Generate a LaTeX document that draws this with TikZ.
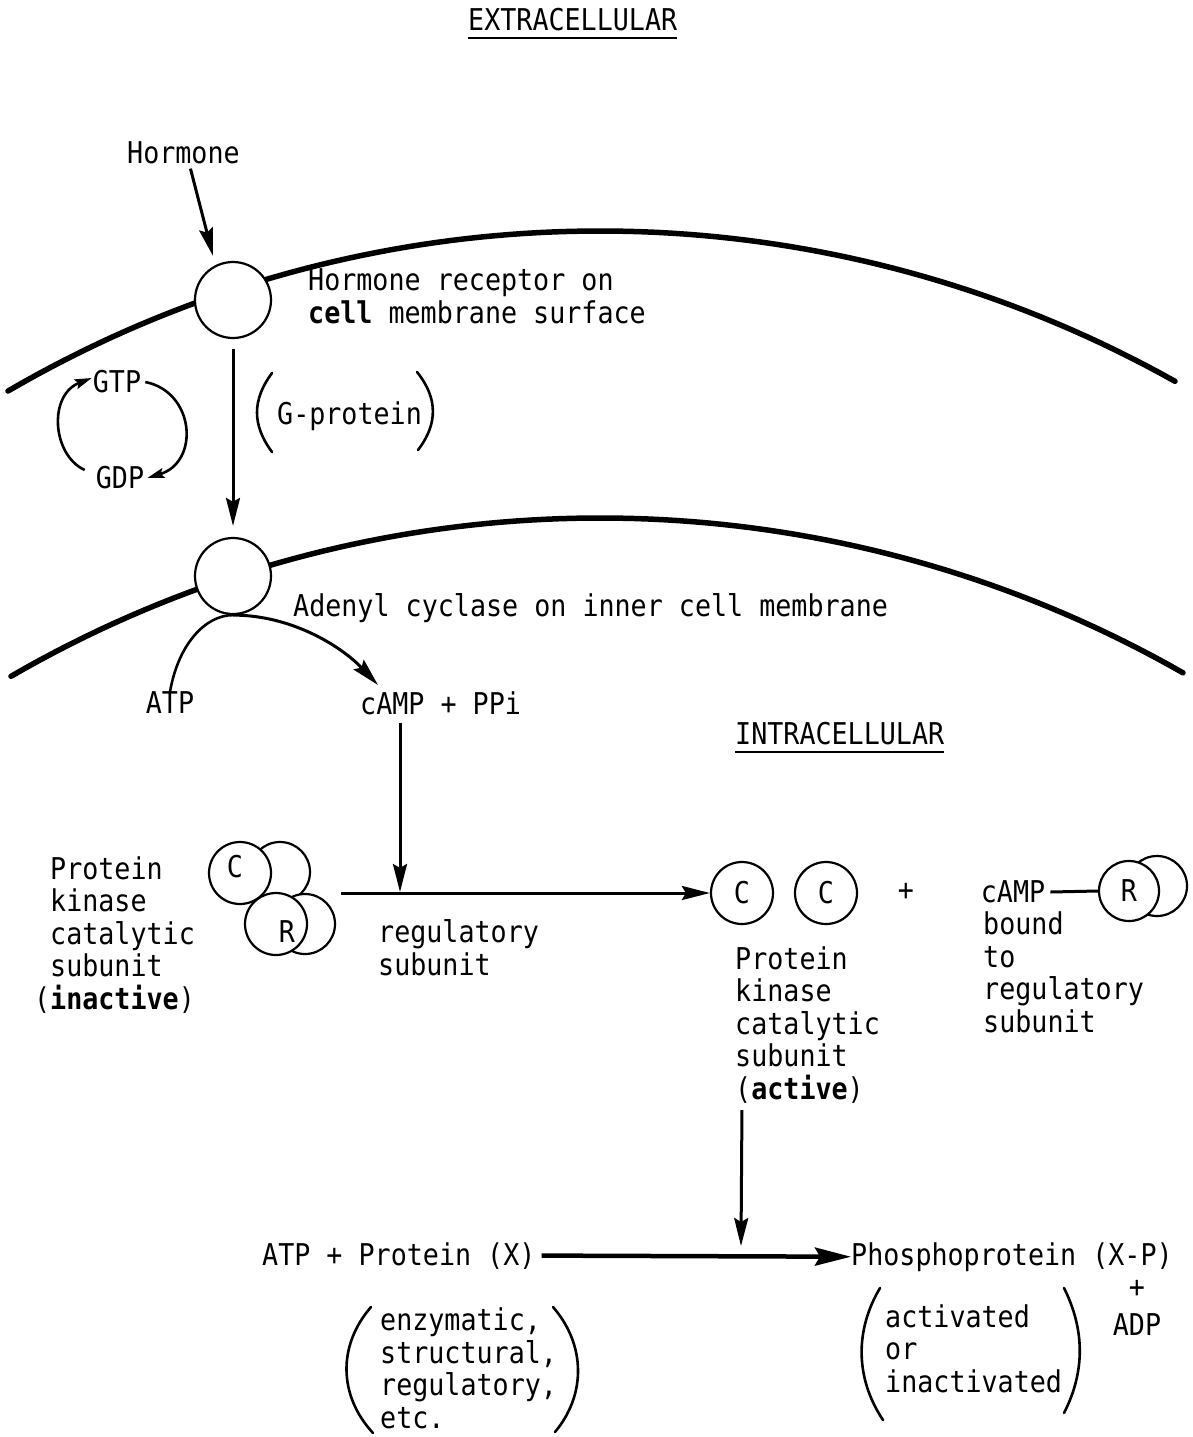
\documentclass[tikz,border=0pt]{standalone}
\usepackage{fontspec}
\usetikzlibrary{arrows.meta}
\newfontfamily\tw[FakeStretch=0.89]{DejaVu Sans Mono}
\begin{document}
\begin{tikzpicture}[x=1pt,y=-1pt,
  txt/.style={inner sep=0pt,anchor=base west,font=\tw\fontsize{30}{32.4}\selectfont,align=left},
  mem/.style={line width=5.5pt,line cap=round},
  arr/.style={line width=3pt,-{Stealth[length=28pt,width=14pt,inset=4pt]}},
  arrs/.style={line width=2.6pt,-{Stealth[length=17pt,width=10pt,inset=3pt]}},
  ring/.style={circle,draw,line width=2.2pt,fill=white,inner sep=0pt,font=\tw\fontsize{30}{32.4}\selectfont},
  par/.style={line width=2.6pt,line cap=round}]
\fill[white] (0,0) rectangle (1192,1437);
% membranes
\draw[mem] plot[domain=8:1175,samples=80] (\x,{1406-100*sqrt(138.0625-((\x-600)/100)^2)});
\draw[mem] plot[domain=11:1183,samples=80] (\x,{1693-100*sqrt(138.0625-((\x-600)/100)^2)});
% titles
\node[txt] (ext) at (468,31) {EXTRACELLULAR};
\draw[line width=2pt] ([yshift=-7pt]ext.base west) -- ([yshift=-7pt]ext.base east);
\node[txt] (int) at (735,744) {INTRACELLULAR};
\draw[line width=2pt] ([yshift=-8pt]int.base west) -- ([yshift=-8pt]int.base east);
% receptor
\node[txt] (hormone) at (127,163) {Hormone};
\node[ring,minimum size=76pt] (rec) at (233,300) {};
\node[ring,minimum size=76pt] (ac) at (233,576) {};
\node[txt] (recl) at (308,323) {Hormone receptor on\\\textbf{cell} membrane surface};
\draw[arr] ([shift={(7pt,-5pt)}]hormone.south) -- ([shift={(-20pt,5pt)}]rec.north);
\draw[arr] ([yshift=-10pt]rec.south) -- ([yshift=11pt]ac.north);
% GTP / GDP
\node[txt,anchor=center] (gtp) at (117,382) {GTP};
\node[txt,anchor=center] (gdp) at (120,478) {GDP};
\draw[arrs] ([shift={(-11pt,8pt)}]gdp.west) .. controls (52,455) and (48,395) .. ([shift={(-1pt,4pt)}]gtp.west);
\draw[arrs] ([xshift=4pt]gtp.east) .. controls (195,392) and (200,462) .. ([xshift=3pt]gdp.east);
% G-protein
\node[txt] (gp) at (277,424) {G-protein};
\draw[par] (272,373) .. controls (252,400) and (252,425) .. (272,452);
\draw[par] (417,372) .. controls (438,398) and (438,424) .. (418,450);
% adenyl cyclase
\node[txt] (acl) at (293,616) {Adenyl cyclase on inner cell membrane};
\node[txt,anchor=center] (atp) at (170,703) {ATP};
\node[txt] (camp) at (360,714) {cAMP + PPi};
\draw[line width=2.6pt] (atp.north) .. controls (178,645) and (205,615) .. (ac.south);
\draw[arr] (ac.south) .. controls (290,615) and (340,645) .. ([shift={(18pt,6pt)}]camp.north west);
% kinase complex
\node[ring,minimum size=60pt] (cb) at (280,872) {};
\node[ring,minimum size=60pt] (rb) at (305,924) {};
\node[ring,minimum size=62pt] (cf) at (240,873) {};
\node[ring,minimum size=62pt] (rf) at (276,924) {};
\node[txt,anchor=center] (lc) at (235,867) {C};
\node[txt,anchor=center] (lr) at (287,932) {R};
\node[txt] (pki) at (50,1009) {Protein\\kinase\\catalytic\\subunit\\\llap{(}\textbf{inactive})};
\node[txt] (regs) at (378,975) {regulatory\\subunit};
% active side
\node[ring,minimum size=62pt] (c1) at (742,893) {C};
\node[ring,minimum size=62pt] (c2) at (826,893) {C};
\node[txt,anchor=center] (plus1) at (906,892) {+};
\node[txt,anchor=center] (camp2) at (1013,892) {cAMP};
\node[ring,minimum size=60pt] (rb2) at (1157,886) {};
\node[ring,minimum size=60pt] (rf2) at (1129,891) {R};
\draw[line width=3pt] ([xshift=5pt]camp2.east) -- (rf2.west);
\node[txt] (pka) at (735,1099) {Protein\\kinase\\catalytic\\subunit\\(\textbf{active})};
\node[txt] (bnd) at (983,1032) {bound\\to\\regulatory\\subunit};
\coordinate (j1) at (400,896);
\draw[arr,shorten <=5pt] (rb.east |- c1.west) -- (c1.west);
\draw[arr] ([shift={(40pt,-8pt)}]camp.south west) -- ([yshift=4pt]j1);
% bottom reaction
\node[txt] (sub) at (262,1265) {ATP + Protein (X)};
\node[txt] (prod) at (851,1265) {Phosphoprotein (X-P)};
\coordinate (j2) at (741,1256);
\draw[line width=4.5pt,-{Stealth[length=36pt,width=18pt,inset=5pt]}] ([xshift=6pt]sub.east) -- (prod.west);
\draw[arr,shorten <=7pt] (c1 |- pka.south) -- ([yshift=10pt]j2);
\node[txt,anchor=center] (plus2) at (1137,1289) {+};
\node[txt,anchor=center] (adp) at (1137,1325) {ADP};
\node[txt] (enz) at (380,1428) {enzymatic,\\structural,\\regulatory,\\etc.};
\node[txt] (act) at (885,1392) {activated\\or\\inactivated};
\draw[par] (371,1307) .. controls (338,1345) and (338,1395) .. (373,1433);
\draw[par] (553,1307) .. controls (586,1345) and (586,1395) .. (555,1432);
\draw[par] (880,1288) .. controls (855,1330) and (855,1378) .. (883,1420);
\draw[par] (1064,1288) .. controls (1085,1330) and (1085,1372) .. (1064,1413);
\end{tikzpicture}
\end{document}
